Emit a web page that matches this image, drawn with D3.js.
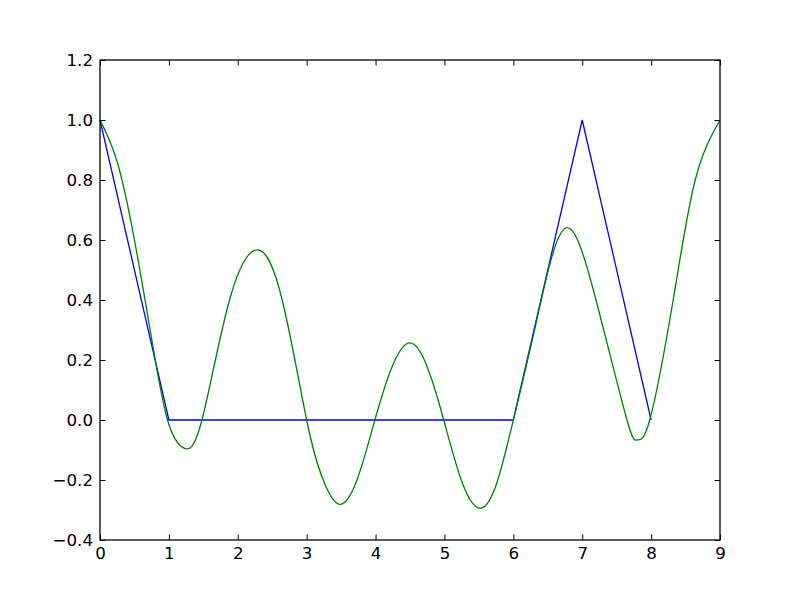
<!DOCTYPE html>
<html>
<head>
<meta charset="utf-8">
<script src="https://cdn.jsdelivr.net/npm/d3@7"></script>
<style>
  body { margin: 0; background: #fff; }
  svg { display: block; }
  .axis text { font-family: "DejaVu Sans", sans-serif; font-size: 16.67px; fill: #000; }
  .axis path { display: none; }
  .axis line { stroke: #000; stroke-width: 1; }
</style>
</head>
<body>
<script>
// values
const blueX = [0, 1, 6, 7, 8];
const blueY = [1, 0, 0, 1, 0];

const greenX = [0, 0.25, 0.5, 0.75, 0.98, 1.22, 1.48, 1.88, 2.289, 2.645, 3.0,
  3.24, 3.475, 3.73, 3.99, 4.245, 4.5, 4.745, 4.99, 5.26, 5.526, 5.76, 6.0,
  6.34, 6.75, 7.2, 7.65, 7.80, 7.98, 8.32, 8.64, 9];
const greenY = [1, 0.86, 0.6, 0.27, 0, -0.094, 0, 0.4, 0.567, 0.4, 0,
  -0.2, -0.281, -0.2, 0, 0.18, 0.257, 0.18, 0, -0.21, -0.294, -0.21, 0,
  0.333, 0.639, 0.4, 0, -0.066, 0, 0.4, 0.8, 1];

const xTicks = [0, 1, 2, 3, 4, 5, 6, 7, 8, 9];
const yTicks = [-0.4, -0.2, 0.0, 0.2, 0.4, 0.6, 0.8, 1.0, 1.2];

const box = {
  width: 800, height: 600,
  margin: { top: 60, right: 80, bottom: 60, left: 100 }
};
box.innerWidth = box.width - box.margin.left - box.margin.right;
box.innerHeight = box.height - box.margin.top - box.margin.bottom;

const svg = d3.select('body').append('svg')
  .attr('width', box.width)
  .attr('height', box.height);

const g = svg.append('g')
  .attr('transform', `translate(${box.margin.left}, ${box.margin.top})`);

const x = d3.scaleLinear().domain([0, 9]).range([0, box.innerWidth]);
const y = d3.scaleLinear().domain([-0.4, 1.2]).range([box.innerHeight, 0]);

const tick = 5.5;
const fmtY = d3.format('.1f');

g.append('g').attr('class', 'axis')
  .attr('transform', `translate(0, ${box.innerHeight})`)
  .call(d3.axisBottom(x).tickValues(xTicks).tickSize(-tick).tickPadding(7).tickFormat(d3.format('d')));
g.append('g').attr('class', 'axis')
  .call(d3.axisTop(x).tickValues(xTicks).tickSize(-tick).tickFormat(''));
g.append('g').attr('class', 'axis')
  .call(d3.axisLeft(y).tickValues(yTicks).tickSize(-tick).tickPadding(7).tickFormat(fmtY));
g.append('g').attr('class', 'axis')
  .attr('transform', `translate(${box.innerWidth}, 0)`)
  .call(d3.axisRight(y).tickValues(yTicks).tickSize(-tick).tickFormat(''));

svg.append('defs').append('clipPath').attr('id', 'clip')
  .append('rect').attr('width', box.innerWidth).attr('height', box.innerHeight);

const blueLine = d3.line()
  .x((d, i) => x(blueX[i]))
  .y(d => y(d));

const greenLine = d3.line()
  .curve(d3.curveNatural)
  .x((d, i) => x(greenX[i]))
  .y(d => y(d));

g.append('path')
  .datum(blueY)
  .attr('d', blueLine)
  .attr('fill', 'none')
  .attr('stroke', '#0000ff')
  .attr('stroke-width', 1.3);

g.append('path')
  .datum(greenY)
  .attr('d', greenLine)
  .attr('fill', 'none')
  .attr('stroke', '#008000')
  .attr('stroke-width', 1.3)
  .attr('clip-path', 'url(#clip)');

g.append('rect')
  .attr('width', box.innerWidth)
  .attr('height', box.innerHeight)
  .attr('fill', 'none')
  .attr('stroke', '#000')
  .attr('stroke-width', 1.3);
</script>
</body>
</html>
